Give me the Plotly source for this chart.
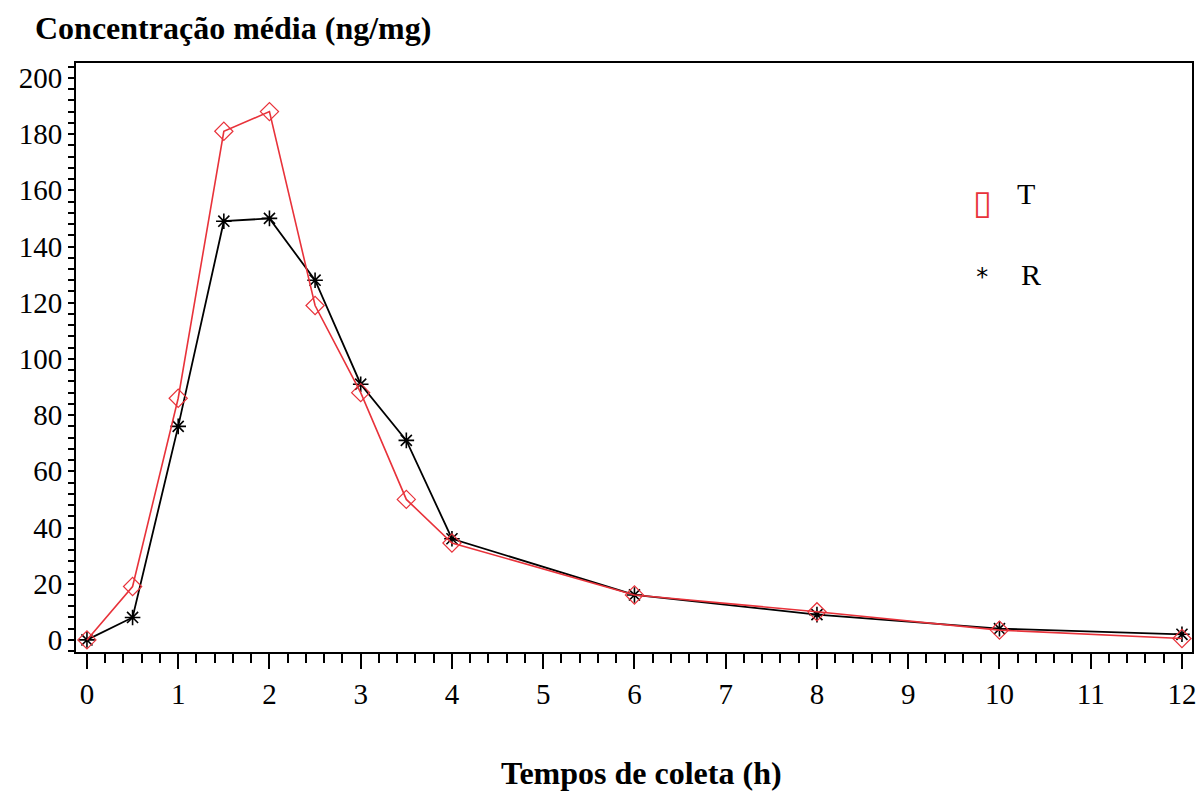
import plotly.graph_objects as go

times = [0, 0.5, 1, 1.5, 2, 2.5, 3, 3.5, 4, 6, 8, 10, 12]
t_vals = [0, 19, 86, 181, 188, 119, 88, 50, 34.5, 16, 10, 3.5, 0.5]
r_vals = [0, 8, 76, 149, 150, 128, 91, 71, 36, 16, 9, 4, 2]
x_ticks = list(range(0, 13))
y_ticks = list(range(0, 201, 20))

RED = "#e8323a"
SERIF = "Liberation Serif"

fig = go.Figure()
fig.add_trace(go.Scatter(
    x=times, y=r_vals, mode="lines+markers", name="R",
    line=dict(color="black", width=1.8),
    marker=dict(symbol="asterisk-open", size=13, color="black",
                line=dict(color="black", width=1.6)),
    showlegend=False))
fig.add_trace(go.Scatter(
    x=times, y=t_vals, mode="lines+markers", name="T",
    line=dict(color=RED, width=1.6),
    marker=dict(symbol="diamond-open", size=14, color=RED,
                line=dict(color=RED, width=1.2)),
    showlegend=False))

fig.update_layout(
    width=1199, height=791,
    margin=dict(l=76, r=7, t=63, b=139),
    plot_bgcolor="white", paper_bgcolor="white",
    font=dict(family=SERIF, color="black", size=26),
    xaxis=dict(
        range=[-0.12, 12.11], tickvals=x_ticks, ticktext=[str(v) for v in x_ticks],
        showgrid=False, zeroline=False, showline=True, mirror=True, automargin=False,
        linecolor="black", linewidth=2, ticks="outside", ticklen=15, tickwidth=2,
        tickcolor="black", tickfont=dict(family=SERIF, size=29),
        minor=dict(dtick=0.2, ticks="outside", ticklen=9, tickwidth=2, tickcolor="black"),
    ),
    yaxis=dict(
        range=[-4.3, 205.3], tickvals=y_ticks, ticktext=[str(v) for v in y_ticks],
        showgrid=False, zeroline=False, showline=True, mirror=True, automargin=False,
        linecolor="black", linewidth=2, ticks="outside", ticklen=6, tickwidth=2,
        tickcolor="black", tickfont=dict(family=SERIF, size=29),
        minor=dict(dtick=4, ticks="outside", ticklen=6, tickwidth=2, tickcolor="black"),
    ),
    annotations=[
        dict(text="<b>Concentração média (ng/mg)</b>", xref="paper", yref="paper",
             x=-0.0385, y=1.059, xanchor="left", yanchor="middle", showarrow=False,
             font=dict(family=SERIF, size=32)),
        dict(text="<b>Tempos de coleta (h)</b>", xref="paper", yref="paper",
             x=0.507, y=-0.2054, xanchor="center", yanchor="middle", showarrow=False,
             font=dict(family=SERIF, size=32)),
        dict(text="▯", xref="x", yref="y", x=9.81, y=156, showarrow=False,
             font=dict(family="DejaVu Sans", size=34, color=RED)),
        dict(text="T", xref="x", yref="y", x=10.29, y=159, showarrow=False,
             font=dict(family=SERIF, size=30, color="black")),
        dict(text="*", xref="x", yref="y", x=9.81, y=129, showarrow=False,
             font=dict(family="DejaVu Sans Mono", size=24, color="black")),
        dict(text="R", xref="x", yref="y", x=10.35, y=130, showarrow=False,
             font=dict(family=SERIF, size=30, color="black")),
    ],
)

fig.write_html("out.html", config={"displayModeBar": False},
               post_script="document.body.style.margin='0';document.body.style.padding='0';")
